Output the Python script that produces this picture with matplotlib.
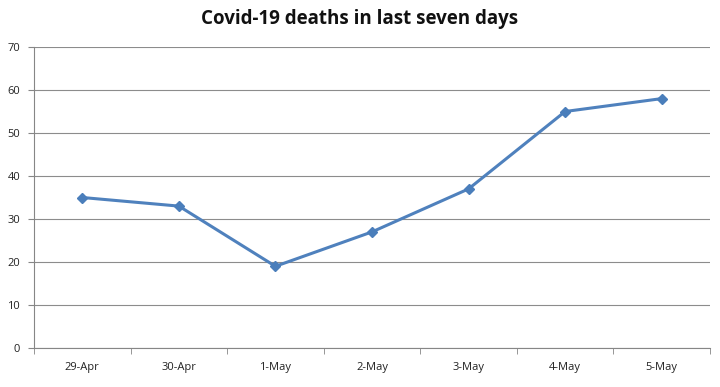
import matplotlib
matplotlib.use("Agg")
import matplotlib.pyplot as plt
import numpy as np

categories = ["29-Apr", "30-Apr", "1-May", "2-May", "3-May", "4-May", "5-May"]
deaths = [35, 33, 19, 27, 37, 55, 58]
yticks = [0, 10, 20, 30, 40, 50, 60, 70]

plt.rcParams['font.family'] = ['Open Sans', 'DejaVu Sans']

fig = plt.figure(figsize=(7.2, 3.87), dpi=100)
ax = fig.add_axes([34/720, 1-348/387, (710-34)/720, (348-47)/387])

x = np.arange(len(categories))
ax.plot(x, deaths, color="#4f81bd", lw=2.2, marker="D", ms=5, mfc="#4a7ebb", mec="#4a7ebb", zorder=3)

ax.set_xlim(-0.5, len(categories) - 0.5)
ax.set_ylim(0, 70)
ax.set_yticks(yticks)
ax.set_yticklabels([str(v) for v in yticks], fontsize=8, color="#222222")
ax.set_xticks(x)
ax.set_xticklabels(categories, fontsize=8, color="#222222")
ax.tick_params(axis='x', length=0, pad=10)
ax.set_xticks(np.arange(-0.5, len(categories)), minor=True)
ax.tick_params(axis='x', which='minor', length=4, color="#868686", direction='out')
ax.tick_params(axis='y', length=4, color="#868686", direction='out', pad=6)

ax.grid(axis='y', color="#8c8c8c", lw=0.8)
ax.set_axisbelow(True)
for s in ['top', 'right']:
    ax.spines[s].set_visible(False)
for s in ['left', 'bottom']:
    ax.spines[s].set_color("#868686")
    ax.spines[s].set_linewidth(0.8)

fig.text(0.5, 1 - 19/387, "Covid-19 deaths in last seven days", ha='center', va='center',
         fontsize=13.5, fontweight='bold', color="#111111")

fig.savefig("out.png", dpi=100)
